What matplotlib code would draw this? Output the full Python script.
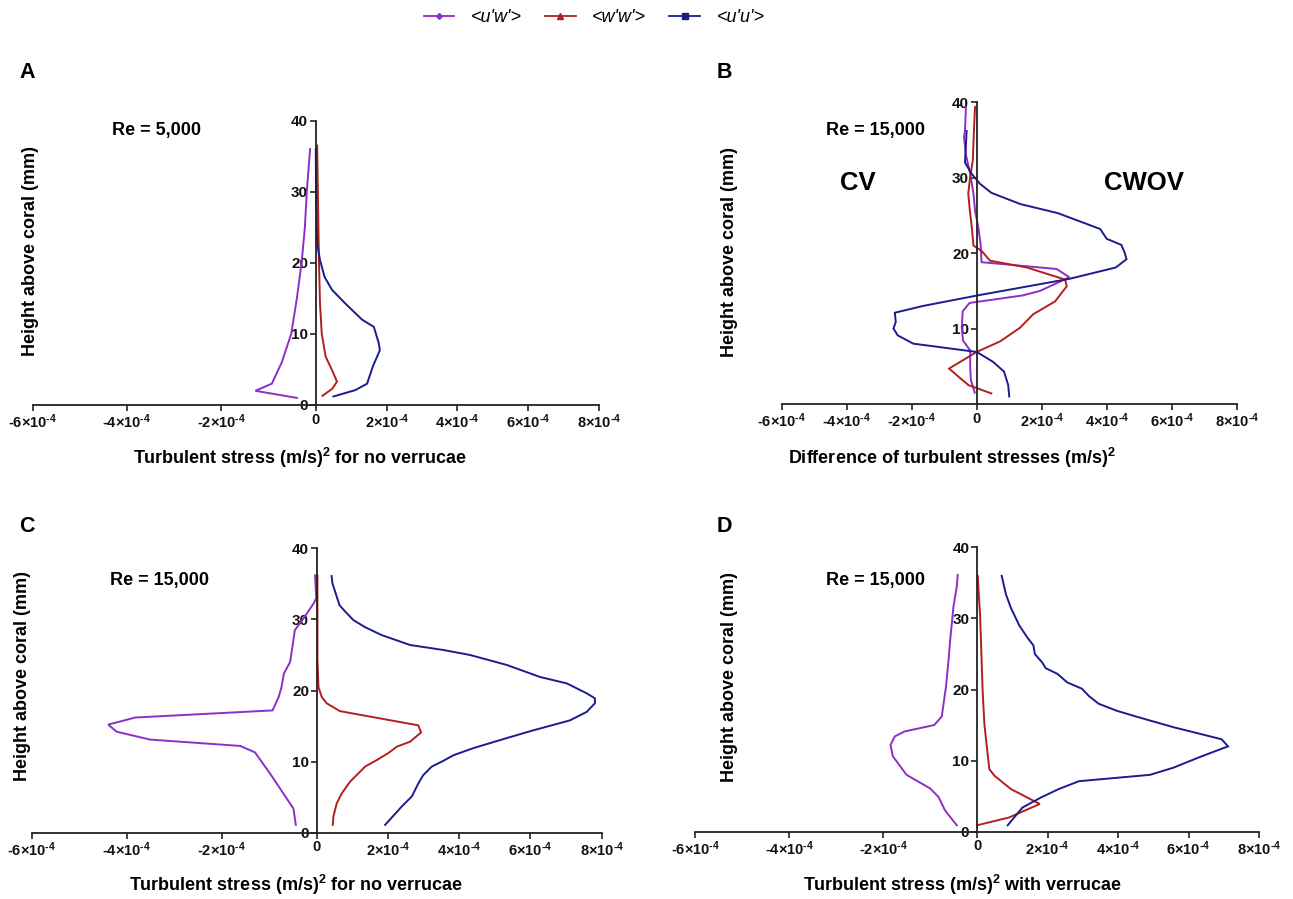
import numpy as np
import matplotlib
matplotlib.use('Agg')
import matplotlib.pyplot as plt
from matplotlib.lines import Line2D
from matplotlib.ticker import FixedLocator, FixedFormatter

plt.rcParams['font.family'] = ['Liberation Sans', 'DejaVu Sans']
plt.rcParams['font.weight'] = 'bold'
plt.rcParams['mathtext.fontset'] = 'custom'
plt.rcParams['mathtext.rm'] = 'Liberation Sans:bold'
plt.rcParams['mathtext.bf'] = 'Liberation Sans:bold'
plt.rcParams['mathtext.it'] = 'Liberation Sans:bold:italic'
plt.rcParams['mathtext.sf'] = 'Liberation Sans:bold'

# ---------------- data (stress values in units of 1e-4 (m/s)^2, heights in mm) -------------
UNIT = 1e-4

# Panel A : Re = 5,000, no verrucae
a_uw_h = [1, 2, 3, 6, 10, 15, 20, 25, 30, 36]
a_uw_x = [-0.40, -1.28, -0.93, -0.72, -0.52, -0.40, -0.30, -0.23, -0.19, -0.12]
a_ww_h = [1.3, 2.3, 3.3, 4.9, 6.8, 10, 14.3, 20.4, 30, 36.5]
a_ww_x = [0.19, 0.47, 0.60, 0.46, 0.28, 0.17, 0.12, 0.09, 0.06, 0.04]
a_uu_h = [1.2, 2.1, 3.0, 5.4, 7.7, 8.7, 11, 12, 14.3, 16.2, 18, 20.4, 22.7, 30, 36]
a_uu_x = [0.50, 1.12, 1.45, 1.61, 1.81, 1.78, 1.64, 1.31, 0.83, 0.46, 0.25, 0.12, 0.04, 0.01, 0.0]

# Panel B : Re = 15,000, difference
b_uw_h = [1.5, 3.2, 5, 7.1, 8.4, 10.1, 12.3, 13.4, 14.4, 15.0, 16.8, 17.9, 18.8, 21.2, 23.4,
          25.6, 27.9, 30.5, 33, 35.4, 36.3, 39.4]
b_uw_x = [-0.06, -0.18, -0.20, -0.20, -0.42, -0.46, -0.43, -0.22, 1.42, 1.95, 2.85, 2.46, 0.15,
          0.12, 0.05, -0.05, -0.10, -0.20, -0.33, -0.39, -0.36, -0.33]
b_ww_h = [1.4, 2.5, 3.4, 4.7, 6.9, 8.3, 10.1, 11.9, 13.6, 15.6, 16.5, 18.1, 19.0, 20.3, 21,
          23.4, 25.6, 27.9, 30.1, 32.3, 34.5, 36.8, 39.4]
b_ww_x = [0.45, -0.25, -0.50, -0.85, 0.0, 0.72, 1.33, 1.74, 2.41, 2.77, 2.72, 1.54, 0.41, 0.15,
          -0.10, -0.15, -0.21, -0.26, -0.20, -0.12, -0.10, -0.08, -0.05]
b_uu_h = [1.0, 2.5, 4.3, 5.6, 6.9, 8.0, 9.1, 10.0, 10.9, 12.1, 13.0, 14.4, 16.6, 18.1, 19.2,
          20.1, 21.1, 21.9, 23.2, 25.3, 26.5, 28, 29.2, 30.5, 32, 34.5, 36.2]
b_uu_x = [1.00, 0.97, 0.84, 0.50, 0.0, -1.95, -2.43, -2.56, -2.49, -2.52, -1.65, 0.03, 2.86,
          4.28, 4.61, 4.55, 4.45, 4.00, 3.80, 2.50, 1.35, 0.45, 0.10, -0.15, -0.36, -0.33, -0.31]

# Panel C : Re = 15,000, no verrucae
c_uw_h = [1.1, 3.4, 8.3, 11.3, 12.2, 13.1, 14.2, 15.2, 16.2, 17.2, 19.1, 20.5, 22.4, 24, 26.2,
          28.5, 30.1, 32.3, 33, 36.2]
c_uw_x = [-0.44, -0.49, -0.98, -1.30, -1.61, -3.51, -4.21, -4.39, -3.82, -0.93, -0.80, -0.74,
          -0.69, -0.56, -0.51, -0.46, -0.28, -0.06, -0.01, -0.035]
c_ww_h = [1.1, 2.3, 4.1, 5.5, 7.2, 9.3, 10.2, 11.2, 12.1, 12.8, 14.1, 15.1, 17.1, 18.2, 19.1,
          20.5, 24.3, 30, 36.2]
c_ww_x = [0.45, 0.47, 0.56, 0.70, 0.94, 1.36, 1.68, 2.01, 2.25, 2.62, 2.93, 2.85, 0.65, 0.28,
          0.14, 0.05, 0.02, 0.02, 0.02]
c_uu_h = [1.1, 3.7, 5.1, 6.9, 8.1, 9.3, 10.1, 10.9, 11.9, 13.3, 14.4, 15.8, 17, 18.2, 18.9,
          19.6, 21, 21.9, 23.6, 25, 25.7, 26.4, 27.8, 28.9, 29.9, 31.1, 32, 35.1, 36.1]
c_uu_x = [1.92, 2.39, 2.67, 2.85, 2.99, 3.23, 3.55, 3.84, 4.40, 5.33, 6.08, 7.11, 7.58, 7.81,
          7.81, 7.58, 7.02, 6.27, 5.33, 4.30, 3.55, 2.62, 1.82, 1.36, 1.03, 0.80, 0.64, 0.44, 0.42]

# Panel D : Re = 15,000, with verrucae
d_uw_h = [0.9, 3, 4.9, 6.1, 8, 10.6, 12.2, 13.4, 14.1, 15, 16.2, 20.4, 23.8, 27, 31.7, 34.5, 36.1]
d_uw_x = [-0.43, -0.68, -0.82, -1.00, -1.50, -1.79, -1.84, -1.75, -1.54, -0.91, -0.75, -0.66,
          -0.61, -0.57, -0.50, -0.43, -0.41]
d_ww_h = [0.9, 2.0, 3.9, 6.0, 7.9, 8.8, 11.9, 15.1, 19.8, 30.2, 36]
d_ww_x = [0.0, 0.91, 1.78, 0.96, 0.49, 0.35, 0.28, 0.21, 0.16, 0.09, 0.02]
d_uu_h = [0.9, 3.4, 4.8, 6, 7.1, 8, 9, 10.5, 12, 13, 14.7, 16.1, 17, 18, 19.1, 20.1, 21, 22.2,
          23, 23.8, 25, 26.2, 27.3, 29, 31.5, 33.4, 36]
d_uu_x = [0.87, 1.29, 1.81, 2.32, 2.89, 4.91, 5.57, 6.32, 7.12, 6.94, 5.57, 4.58, 3.97, 3.45,
          3.17, 2.98, 2.56, 2.28, 1.95, 1.85, 1.64, 1.60, 1.43, 1.20, 0.96, 0.82, 0.70]

series_labels = ["<u'w'>", "<w'w'>", "<u'u'>"]
x_ticks = [-6e-4, -4e-4, -2e-4, 0, 2e-4, 4e-4, 6e-4, 8e-4]
x_tick_labels = [r'$\text{-6}{\times}10^{\text{-4}}$', r'$\text{-4}{\times}10^{\text{-4}}$',
                 r'$\text{-2}{\times}10^{\text{-4}}$', '0',
                 r'$2{\times}10^{\text{-4}}$', r'$4{\times}10^{\text{-4}}$',
                 r'$6{\times}10^{\text{-4}}$', r'$8{\times}10^{\text{-4}}$']

C_UW = '#8A2FC8'
C_WW = '#B1201F'
C_UU = '#1B1C8E'
AX_COL = '#222222'

W, H = 1293, 899
fig = plt.figure(figsize=(W / 100, H / 100), dpi=100)


def fwd(x):
    x = np.asarray(x, dtype=float)
    return np.where(x < 0, x / 6e-4, x / 8e-4)


def inv(y):
    y = np.asarray(y, dtype=float)
    return np.where(y < 0, y * 6e-4, y * 8e-4)


def px_axes(left, right, top, bottom):
    return fig.add_axes([left / W, 1 - bottom / H, (right - left) / W, (bottom - top) / H])


def setup(ax, piecewise, yticks):
    if piecewise:
        ax.set_xscale('function', functions=(fwd, inv))
    ax.set_xlim(-6e-4, 8e-4)
    ax.set_ylim(0, 40)
    ax.patch.set_alpha(0)
    ax.spines['left'].set_position(('data', 0))
    for s in ('top', 'right'):
        ax.spines[s].set_visible(False)
    for s in ('left', 'bottom'):
        ax.spines[s].set_linewidth(1.3)
        ax.spines[s].set_color(AX_COL)
    ax.xaxis.set_major_locator(FixedLocator(x_ticks))
    ax.xaxis.set_major_formatter(FixedFormatter(x_tick_labels))
    ax.xaxis.set_minor_locator(FixedLocator([]))
    ax.set_yticks(yticks)
    ax.set_yticklabels([str(t) for t in yticks])
    ax.tick_params(axis='both', direction='out', length=4, width=1.2, color=AX_COL,
                   labelcolor='#111111', pad=1.5)
    ax.tick_params(axis='x', labelsize=10.5)
    ax.tick_params(axis='y', labelsize=11)


def draw(ax, uw, ww, uu):
    for (h, x), c in zip((uw, ww, uu), (C_UW, C_WW, C_UU)):
        ax.plot(np.array(x) * UNIT, h, color=c, lw=1.4, solid_joinstyle='miter')


# Panel A
axA = px_axes(32.5, 599, 120.7, 405)
setup(axA, True, [0, 10, 20, 30, 40])
draw(axA, (a_uw_h, a_uw_x), (a_ww_h, a_ww_x), (a_uu_h, a_uu_x))

# Panel B
axB = px_axes(781.7, 1236.7, 102.3, 404)
setup(axB, False, [10, 20, 30, 40])
draw(axB, (b_uw_h, b_uw_x), (b_ww_h, b_ww_x), (b_uu_h, b_uu_x))

# Panel C
axC = px_axes(31.7, 601.7, 548.3, 832.7)
setup(axC, True, [0, 10, 20, 30, 40])
draw(axC, (c_uw_h, c_uw_x), (c_ww_h, c_ww_x), (c_uu_h, c_uu_x))

# Panel D
axD = px_axes(695, 1259, 547.3, 831.7)
setup(axD, True, [0, 10, 20, 30, 40])
draw(axD, (d_uw_h, d_uw_x), (d_ww_h, d_ww_x), (d_uu_h, d_uu_x))


def ftext(x, y, s, **kw):
    fig.text(x / W, 1 - y / H, s, ha='center', va='center', **kw)


# panel letters
for (x, y, s) in [(27, 72, 'A'), (724, 72, 'B'), (27, 527, 'C'), (724, 527, 'D')]:
    ftext(x, y, s, fontsize=15.5, fontweight='bold')

# Reynolds numbers
ftext(157, 130, 'Re = 5,000', fontsize=13, fontweight='bold')
ftext(876, 130, 'Re = 15,000', fontsize=13, fontweight='bold')
ftext(160, 580, 'Re = 15,000', fontsize=13, fontweight='bold')
ftext(876, 580, 'Re = 15,000', fontsize=13, fontweight='bold')

# CV / CWOV
ftext(858, 183, 'CV', fontsize=18.5, fontweight='bold')
ftext(1144, 183, 'CWOV', fontsize=18.5, fontweight='bold')

# y labels
for (x, y) in [(31, 251), (729, 252), (23, 676), (729, 677)]:
    ftext(x, y, 'Height above coral (mm)', fontsize=13, fontweight='bold', rotation=90)

# x labels
ftext(300, 458, r'Turbulent stress (m/s)$^{2}$ for no verrucae', fontsize=13, fontweight='bold')
ftext(952, 458, r'Difference of turbulent stresses (m/s)$^{2}$', fontsize=13, fontweight='bold')
ftext(296, 885, r'Turbulent stress (m/s)$^{2}$ for no verrucae', fontsize=13, fontweight='bold')
ftext(963, 885, r'Turbulent stress (m/s)$^{2}$ with verrucae', fontsize=13, fontweight='bold')

# legend
handles = [
    Line2D([], [], color=C_UW, lw=1.3, marker='D', markersize=3),
    Line2D([], [], color=C_WW, lw=1.3, marker='^', markersize=4.5),
    Line2D([], [], color=C_UU, lw=1.3, marker='s', markersize=4.5),
]
fig.legend(handles, series_labels, loc='center', bbox_to_anchor=(594 / W, 1 - 18 / H),
           ncol=3, frameon=False, handlelength=1.7, handletextpad=0.9, columnspacing=1.3,
           prop={'style': 'italic', 'weight': 'normal', 'size': 13})

fig.savefig('out.png', dpi=100)
